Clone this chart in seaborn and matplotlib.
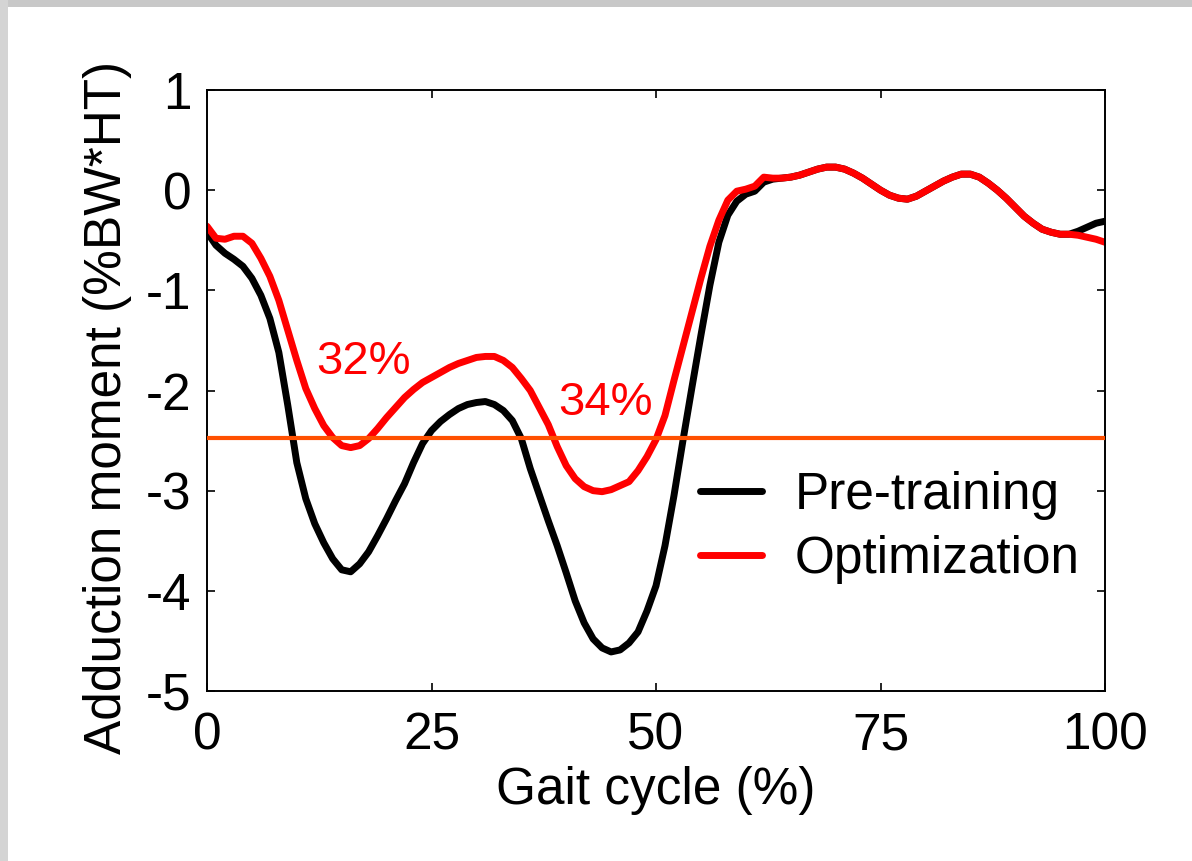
import numpy as np
import pandas as pd
import matplotlib
matplotlib.use("Agg")
import matplotlib.pyplot as plt
import seaborn as sns
from matplotlib.patches import Rectangle

# ---------------- data ----------------
gait = list(range(0, 101))

pre_training = [
    -0.42, -0.55, -0.63, -0.69, -0.76, -0.88, -1.05, -1.28, -1.62, -2.15,
    -2.72, -3.08, -3.33, -3.52, -3.68, -3.79, -3.81, -3.73, -3.61, -3.45,
    -3.28, -3.10, -2.93, -2.72, -2.53, -2.40, -2.31, -2.24, -2.18, -2.14,
    -2.12, -2.11, -2.14, -2.20, -2.30, -2.48, -2.78, -3.04, -3.30, -3.55,
    -3.82, -4.10, -4.32, -4.48, -4.57, -4.61, -4.59, -4.52, -4.41, -4.20,
    -3.95, -3.55, -3.05, -2.50, -1.97, -1.45, -0.95, -0.52, -0.25, -0.11,
    -0.04, -0.01, 0.08, 0.11, 0.12, 0.13, 0.15, 0.18, 0.21, 0.23,
    0.23, 0.21, 0.17, 0.12, 0.06, 0.00, -0.05, -0.08, -0.09, -0.06,
    -0.01, 0.04, 0.09, 0.13, 0.16, 0.16, 0.13, 0.07, 0.00, -0.08,
    -0.17, -0.26, -0.33, -0.39, -0.42, -0.44, -0.44, -0.41, -0.37, -0.33,
    -0.31,
]

optimization = [
    -0.36, -0.48, -0.49, -0.46, -0.46, -0.53, -0.68, -0.86, -1.10, -1.40,
    -1.70, -1.98, -2.18, -2.35, -2.47, -2.55, -2.57, -2.55, -2.48, -2.38,
    -2.27, -2.17, -2.07, -1.99, -1.92, -1.87, -1.82, -1.77, -1.73, -1.70,
    -1.67, -1.66, -1.66, -1.70, -1.77, -1.88, -2.00, -2.17, -2.34, -2.56,
    -2.75, -2.88, -2.96, -3.00, -3.01, -2.99, -2.95, -2.91, -2.80, -2.66,
    -2.49, -2.25, -1.90, -1.56, -1.22, -0.88, -0.56, -0.30, -0.10, -0.01,
    0.01, 0.04, 0.13, 0.12, 0.12, 0.13, 0.15, 0.18, 0.21, 0.23,
    0.23, 0.21, 0.17, 0.12, 0.06, 0.00, -0.05, -0.08, -0.09, -0.06,
    -0.01, 0.04, 0.09, 0.13, 0.16, 0.16, 0.13, 0.07, 0.00, -0.08,
    -0.17, -0.26, -0.33, -0.39, -0.42, -0.44, -0.44, -0.45, -0.47, -0.49,
    -0.52,
]

series_names = ["Pre-training", "Optimization"]
series_colors = ["#000000", "#FF0000"]
threshold = -2.47
annotations = ["32%", "34%"]
annotation_x = [17.4, 44.4]
annotation_y = [-1.72, -2.12]

x_ticks = [0, 25, 50, 75, 100]
y_ticks = [1, 0, -1, -2, -3, -4, -5]

# ---------------- build table ----------------
df = pd.concat([
    pd.DataFrame({"Gait cycle (%)": gait, "moment": pre_training, "series": series_names[0]}),
    pd.DataFrame({"Gait cycle (%)": gait, "moment": optimization, "series": series_names[1]}),
], ignore_index=True)

# ---------------- style ----------------
sns.set_style("ticks")
plt.rcParams["font.family"] = ["Liberation Sans", "DejaVu Sans"]
plt.rcParams["text.color"] = "black"
plt.rcParams["axes.labelcolor"] = "black"
plt.rcParams["xtick.color"] = "black"
plt.rcParams["ytick.color"] = "black"
plt.rcParams["lines.solid_joinstyle"] = "round"
plt.rcParams["lines.solid_capstyle"] = "round"

fig = plt.figure(figsize=(11.92, 8.61), dpi=100, facecolor="white")
ax = fig.add_axes([207 / 1192, 1 - 691 / 861, 898 / 1192, 601 / 861])

# decorative grey frame of the screenshot
fig.patches.append(Rectangle((0, 1 - 7 / 861), 1, 7 / 861, transform=fig.transFigure,
                             facecolor="#C8C8C8", edgecolor="none", zorder=-10))
fig.patches.append(Rectangle((0, 0), 8 / 1192, 1, transform=fig.transFigure,
                             facecolor="#D4D4D4", edgecolor="none", zorder=-10))

sns.lineplot(data=df, x="Gait cycle (%)", y="moment", hue="series",
             hue_order=series_names, palette=dict(zip(series_names, series_colors)),
             linewidth=5, ax=ax, legend=True)

ax.axhline(threshold, color="#FF5000", linewidth=3, zorder=5, solid_capstyle="butt")

for t, xx, yy in zip(annotations, annotation_x, annotation_y):
    ax.text(xx, yy, t, color="#FF0000", fontsize=34, ha="center", va="center")

ax.set_xlim(0, 100)
ax.set_ylim(-5, 1)
ax.set_xticks(x_ticks)
ax.set_yticks(y_ticks)
ax.set_xticklabels([str(v) for v in x_ticks])
ax.set_yticklabels([str(v) for v in y_ticks])
ax.set_xlabel("Gait cycle (%)", fontsize=37, labelpad=4)
ax.set_ylabel("Adduction moment (%BW*HT)", fontsize=37, labelpad=10)
ax.yaxis.label.set_y(0.472)

ax.tick_params(axis="both", direction="in", top=True, right=True, length=6,
               width=1.2, labelsize=37, color="black", labelcolor="black")
ax.tick_params(axis="x", pad=15)
ax.tick_params(axis="y", pad=11)
for s in ax.spines.values():
    s.set_linewidth(1.4)
    s.set_color("black")

leg = ax.legend(loc="center left", bbox_to_anchor=(0.549, 0.272), frameon=False,
                fontsize=37, handlelength=1.2, handletextpad=0.65,
                labelspacing=0.3, borderpad=0, borderaxespad=0)
for line in leg.get_lines():
    line.set_linewidth(5)

fig.savefig("out.png", dpi=100, facecolor="white")
